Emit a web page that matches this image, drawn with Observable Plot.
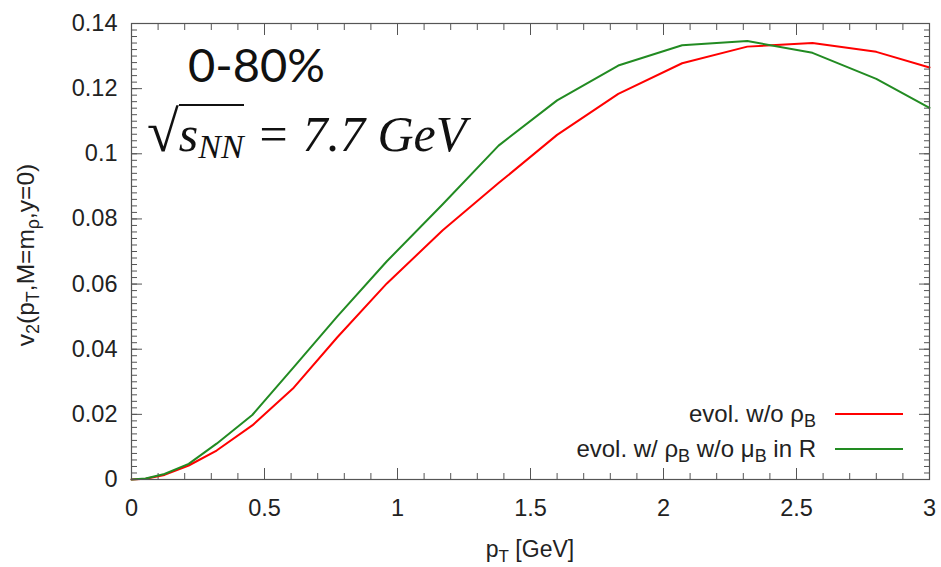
<!DOCTYPE html>
<html><head><meta charset="utf-8">
<script src="https://cdn.jsdelivr.net/npm/d3@7"></script>
<script src="https://cdn.jsdelivr.net/npm/@observablehq/plot@0.6"></script>
<style>
body{margin:0;background:#fff;}
#wrap{position:relative;width:941px;height:567px;overflow:hidden;}
#cent{position:absolute;left:188px;top:41px;font-family:Lato,"Open Sans",sans-serif;font-size:47px;color:#111;line-height:1;}
#sqs{position:absolute;left:147px;top:103px;font-family:"Liberation Serif",serif;font-style:italic;font-size:50px;color:#111;line-height:1;white-space:nowrap;}
#sqs .rad{font-style:normal;font-size:58px;}
#sqs .ov{border-top:2.5px solid #111;padding-top:0px;}
#sqs sub{font-size:34px;vertical-align:-7px;}
</style></head><body><div id="wrap"></div>
<script>
const pT = [0, 0.053, 0.124, 0.215, 0.32, 0.454, 0.61, 0.773, 0.96, 1.17, 1.38, 1.60, 1.83, 2.07, 2.315, 2.56, 2.80, 3.0];
const v2NoRho = [0, 0.0002, 0.0014, 0.0043, 0.0089, 0.0166, 0.0282, 0.0436, 0.0602, 0.0765, 0.0910, 0.1058, 0.1184, 0.1278, 0.1329, 0.1340, 0.1313, 0.1265];
const v2WithRho = [0, 0.0003, 0.0017, 0.0048, 0.0110, 0.0198, 0.0345, 0.0500, 0.0670, 0.0845, 0.1025, 0.1164, 0.1271, 0.1333, 0.1346, 0.1310, 0.1230, 0.1141];
const seriesNames = ["evol. w/o ρB", "evol. w/ ρB w/o μB in R"];
const seriesColors = ["#ff0000", "#228b22"];
const xTicks = [0, 0.5, 1, 1.5, 2, 2.5, 3];
const xMinor = d3.range(0, 31).map(i => i / 10);
const yTicks = [0, 0.02, 0.04, 0.06, 0.08, 0.1, 0.12, 0.14];
const yMinor = d3.range(0, 71).map(i => i / 500);

const rows = [];
pT.forEach((p, i) => rows.push({pT: p, v2: v2NoRho[i], s: seriesNames[0]}));
pT.forEach((p, i) => rows.push({pT: p, v2: v2WithRho[i], s: seriesNames[1]}));

const fmt = d => String(+d.toFixed(3));
const none = () => "";
const tk = "#555";

const chart = Plot.plot({
  width: 941, height: 567,
  marginLeft: 131, marginRight: 12, marginTop: 23, marginBottom: 88,
  x: {domain: [0, 3]},
  y: {domain: [0, 0.14]},
  color: {domain: seriesNames, range: seriesColors},
  style: {fontFamily: "'Liberation Sans', Arial, sans-serif", fontSize: "23.5px", color: "#222", background: "#fff"},
  marks: [
    Plot.axisX(xMinor, {anchor: "bottom", tickSize: -6, tickFormat: none, label: null, stroke: tk}),
    Plot.axisX(xMinor, {anchor: "top", tickSize: -6, tickFormat: none, label: null, stroke: tk}),
    Plot.axisY(yMinor, {anchor: "left", tickSize: -6, tickFormat: none, label: null, stroke: tk}),
    Plot.axisY(yMinor, {anchor: "right", tickSize: -6, tickFormat: none, label: null, stroke: tk}),
    Plot.axisX(xTicks, {anchor: "bottom", tickSize: -11, tickPadding: 31, tickFormat: fmt, label: null, stroke: tk}),
    Plot.axisX(xTicks, {anchor: "top", tickSize: -11, tickFormat: none, label: null, stroke: tk}),
    Plot.axisY(yTicks, {anchor: "left", tickSize: -11, tickPadding: 25, tickFormat: fmt, label: null, stroke: tk}),
    Plot.axisY(yTicks, {anchor: "right", tickSize: -11, tickFormat: none, label: null, stroke: tk}),
    Plot.line(rows, {x: "pT", y: "v2", z: "s", stroke: "s", strokeWidth: 2}),
    Plot.frame({stroke: tk, strokeWidth: 1.2})
  ]
});
document.getElementById("wrap").appendChild(chart);

const svg = d3.select(chart);
// x label
const xl = svg.append("text").attr("x", 530).attr("y", 557).attr("text-anchor", "middle")
  .attr("font-size", 23).attr("fill", "#222");
xl.append("tspan").text("p");
xl.append("tspan").attr("font-size", 17).attr("dy", 5).text("T");
xl.append("tspan").attr("dy", -5).text(" [GeV]");
// y label
const yl = svg.append("text").attr("transform", "translate(34,255) rotate(-90)").attr("text-anchor", "middle")
  .attr("font-size", 24.5).attr("fill", "#222");
yl.append("tspan").text("v");
yl.append("tspan").attr("font-size", 18).attr("dy", 5).text("2");
yl.append("tspan").attr("dy", -5).text("(p");
yl.append("tspan").attr("font-size", 18).attr("dy", 5).text("T");
yl.append("tspan").attr("dy", -5).text(",M=m");
yl.append("tspan").attr("font-size", 18).attr("dy", 5).text("ρ");
yl.append("tspan").attr("dy", -5).text(",y=0)");
// legend
const legParts = [[["evol. w/o ρ", false], ["B", true]], [["evol. w/ ρ", false], ["B", true], [" w/o μ", false], ["B", true], [" in R", false]]];
legParts.forEach((parts, i) => {
  const yy = 414 + i * 35;
  const t = svg.append("text").attr("x", 816).attr("y", yy + 8).attr("text-anchor", "end")
    .attr("font-size", 24).attr("fill", "#222");
  let sub = false;
  parts.forEach(([s, isSub]) => {
    const ts = t.append("tspan").text(s);
    if (isSub && !sub) { ts.attr("font-size", 18).attr("dy", 5); sub = true; }
    else if (!isSub && sub) { ts.attr("dy", -5); sub = false; }
  });
  svg.append("line").attr("x1", 835).attr("x2", 903).attr("y1", yy).attr("y2", yy)
    .attr("stroke", seriesColors[i]).attr("stroke-width", 2);
});

const wrap = document.getElementById("wrap");
const c = document.createElement("div"); c.id = "cent"; c.textContent = "0-80%"; wrap.appendChild(c);
const s = document.createElement("div"); s.id = "sqs";
s.innerHTML = '<span class="rad">√</span><span class="ov">s<sub>NN</sub></span> = 7.7 GeV';
wrap.appendChild(s);
</script></body></html>
